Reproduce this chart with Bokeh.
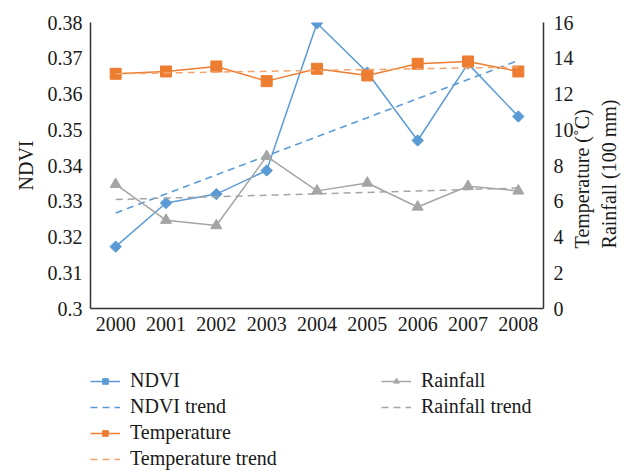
import math
import numpy as np
from bokeh.plotting import figure
from bokeh.layouts import column
from bokeh.models import (Range1d, LinearAxis, FixedTicker, Legend, LegendItem)
from bokeh.embed import file_html
from bokeh.resources import INLINE

# ---- data ----
years = [2000, 2001, 2002, 2003, 2004, 2005, 2006, 2007, 2008]
ndvi = [0.3173, 0.3295, 0.3320, 0.3386, 0.3798, 0.3660, 0.3470, 0.3685, 0.3537]
temperature = [13.13, 13.26, 13.54, 12.72, 13.41, 13.04, 13.69, 13.82, 13.26]
rainfall = [6.95, 4.94, 4.64, 8.51, 6.58, 7.02, 5.68, 6.84, 6.58]

ndvi_ticks = [0.30, 0.31, 0.32, 0.33, 0.34, 0.35, 0.36, 0.37, 0.38]
ndvi_tick_labels = ["0.3", "0.31", "0.32", "0.33", "0.34", "0.35", "0.36", "0.37", "0.38"]
right_ticks = [0, 2, 4, 6, 8, 10, 12, 14, 16]
right_titles = ["Temperature (\u02daC)", "Rainfall (100 mm)"]
right_title_anchor = 3.36  # where the rotated right-hand titles start (right-axis units)

# linear trend lines (least squares, like spreadsheet trendlines)
def trend(x, y):
    k, b = np.polyfit(x, y, 1)
    return [k * xi + b for xi in x]

ndvi_tr = trend(years, ndvi)
temp_tr = trend(years, temperature)
rain_tr = trend(years, rainfall)

FONT = "Liberation Serif"
BLUE = "#5B9BD5"
ORANGE = "#ED7D31"
ORANGE_L = "#F4A46E"
GRAY = "#A5A5A5"
AX = "#333333"
TXT = "#1a1a1a"
DASH = "7 5"
DIAMOND_ANGLE = math.pi / 4

p = figure(width=635, height=345, output_backend="svg", toolbar_location=None,
           x_range=Range1d(1999.5, 2008.5), y_range=Range1d(0.30, 0.38),
           min_border_left=90, min_border_right=92, min_border_top=22,
           min_border_bottom=37)
p.extra_y_ranges = {"right": Range1d(0, 16)}
p.outline_line_color = None
p.grid.visible = False

# axes
p.xaxis.ticker = FixedTicker(ticks=years)
p.yaxis.ticker = FixedTicker(ticks=ndvi_ticks)
p.yaxis.major_label_overrides = {t: l for t, l in zip(ndvi_ticks, ndvi_tick_labels)}
p.yaxis.axis_label = "NDVI"

raxis = LinearAxis(y_range_name="right", ticker=FixedTicker(ticks=right_ticks))
p.add_layout(raxis, "right")
# label-only axes for the two-line right-hand title (read bottom to top)
title_axes = []
for t in right_titles:
    a = LinearAxis(y_range_name="right", ticker=FixedTicker(ticks=[right_title_anchor]),
                   major_label_overrides={right_title_anchor: t},
                   major_label_orientation=math.pi / 2)
    p.add_layout(a, "right")
    title_axes.append(a)
raxis_t, raxis_r = title_axes

for ax in [p.xaxis[0], p.yaxis[0], raxis, raxis_t, raxis_r]:
    ax.axis_line_color = AX
    ax.axis_line_width = 1.5
    ax.major_tick_line_color = None
    ax.minor_tick_line_color = None
    ax.major_tick_out = 0
    ax.major_tick_in = 0
    ax.minor_tick_out = 0
    ax.minor_tick_in = 0
    ax.major_label_text_font = FONT
    ax.major_label_text_font_size = "20px"
    ax.major_label_text_color = TXT
    ax.axis_label_text_font = FONT
    ax.axis_label_text_font_size = "20px"
    ax.axis_label_text_font_style = "normal"
    ax.axis_label_text_color = TXT
    ax.major_label_standoff = 8
    ax.axis_label_standoff = 8

raxis.major_label_standoff = 10
for ax in [raxis_t, raxis_r]:
    ax.axis_line_color = None
    ax.axis_label_standoff = 0
raxis_t.major_label_standoff = 6
raxis_r.major_label_standoff = 2

# series
p.line(years, ndvi, line_color=BLUE, line_width=1.5)
p.scatter(years, ndvi, marker="square", angle=DIAMOND_ANGLE, size=8,
          fill_color=BLUE, line_color=BLUE)
p.line(years, ndvi_tr, line_color=BLUE, line_width=1.5, line_dash=DASH)

p.line(years, temperature, line_color=ORANGE, line_width=1.5, y_range_name="right")
p.scatter(years, temperature, marker="square", size=11, fill_color=ORANGE,
          line_color=ORANGE, y_range_name="right")
p.line(years, temp_tr, line_color=ORANGE_L, line_width=1.5, line_dash=DASH,
       y_range_name="right")

p.line(years, rainfall, line_color=GRAY, line_width=1.5, y_range_name="right")
p.scatter(years, rainfall, marker="triangle", size=11, fill_color=GRAY,
          line_color=GRAY, y_range_name="right")
p.line(years, rain_tr, line_color=GRAY, line_width=1.5, line_dash=DASH,
       y_range_name="right")

# ---- legend panel below the chart (legend-only renderers, hidden) ----
q = figure(width=635, height=126, output_backend="svg", toolbar_location=None,
           x_axis_type=None, y_axis_type=None, min_border=0,
           x_range=Range1d(1999.5, 2008.5), y_range=Range1d(0.30, 0.38))
q.extra_y_ranges = {"right": Range1d(0, 16)}
q.outline_line_color = None
q.grid.visible = False

def hidden(r):
    r.visible = False
    return r

lg_ndvi = [hidden(q.line(years, ndvi, line_color=BLUE, line_width=1.5)),
           hidden(q.scatter(years, ndvi, marker="square", angle=DIAMOND_ANGLE,
                            fill_color=BLUE, line_color=BLUE))]
lg_ndvi_t = hidden(q.line(years, ndvi_tr, line_color=BLUE, line_width=1.5, line_dash=DASH))
lg_temp = [hidden(q.line(years, temperature, line_color=ORANGE, line_width=1.5, y_range_name="right")),
           hidden(q.scatter(years, temperature, marker="square", fill_color=ORANGE,
                            line_color=ORANGE, y_range_name="right"))]
lg_temp_t = hidden(q.line(years, temp_tr, line_color=ORANGE_L, line_width=1.5, line_dash=DASH,
                          y_range_name="right"))
lg_rain = [hidden(q.line(years, rainfall, line_color=GRAY, line_width=1.5, y_range_name="right")),
           hidden(q.scatter(years, rainfall, marker="triangle", fill_color=GRAY,
                            line_color=GRAY, y_range_name="right"))]
lg_rain_t = hidden(q.line(years, rain_tr, line_color=GRAY, line_width=1.5, line_dash=DASH,
                          y_range_name="right"))

def mk_legend(items, loc):
    return Legend(items=items, location=loc, orientation="vertical",
                  border_line_color=None, background_fill_alpha=0,
                  padding=0, margin=0, spacing=3, glyph_width=30, glyph_height=14,
                  label_height=21, label_standoff=10,
                  label_text_font=FONT, label_text_font_size="20px",
                  label_text_color=TXT)

leg1 = mk_legend([
    LegendItem(label="NDVI", renderers=lg_ndvi),
    LegendItem(label="NDVI trend", renderers=[lg_ndvi_t]),
    LegendItem(label="Temperature", renderers=lg_temp),
    LegendItem(label="Temperature trend", renderers=[lg_temp_t]),
], (0, 1))
leg2 = mk_legend([
    LegendItem(label="Rainfall", renderers=lg_rain),
    LegendItem(label="Rainfall trend", renderers=[lg_rain_t]),
], (291, 53))
q.add_layout(leg1, "center")
q.add_layout(leg2, "center")

layout = column(p, q, spacing=0)
open("out.html", "w").write(file_html(layout, INLINE))
